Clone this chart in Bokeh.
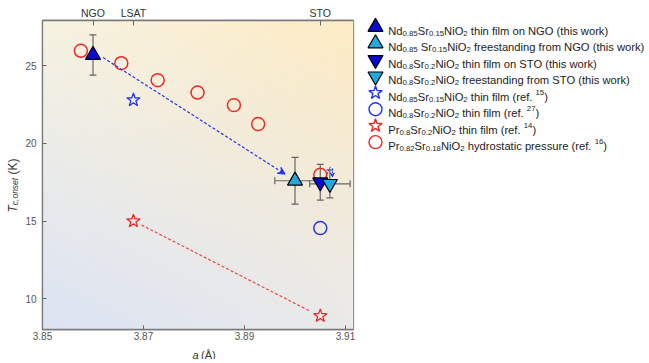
import numpy as np
from bokeh.plotting import figure
from bokeh.models import (Range1d, LinearAxis, FixedTicker, Whisker, TeeHead,
                          ColumnDataSource, Arrow, VeeHead)
from bokeh.layouts import row, column
from bokeh.embed import file_html
from bokeh.resources import INLINE
from bokeh.core.properties import value

# ---------------- data ----------------
ngo_film_a = [3.860]
ngo_film_tc = [25.7]
ngo_film_tc_err = [1.3]

fs_ngo_a = [3.900]
fs_ngo_tc = [17.6]
fs_ngo_tc_err = [1.5]
fs_ngo_a_err = [0.004]

sto_film_a = [3.905]
sto_film_tc = [17.5]
sto_film_tc_err = [1.15]

fs_sto_a = [3.9069]
fs_sto_tc = [17.4]
fs_sto_tc_err = [0.9]
fs_sto_a_err = [0.004]

nd85_ref15_a = [3.868]
nd85_ref15_tc = [22.8]

nd8_ref27_a = [3.905]
nd8_ref27_tc = [14.55]

pr8_ref14_a = [3.868, 3.905]
pr8_ref14_tc = [15.0, 8.9]

pr82_ref16_a = [3.8576, 3.8656, 3.8728, 3.8807, 3.8879, 3.8927, 3.905]
pr82_ref16_tc = [25.97, 25.17, 24.08, 23.28, 22.47, 21.25, 17.98]

substrates = ["NGO", "LSAT", "STO"]
substrate_a = [3.860, 3.868, 3.905]

x_ticks = [3.85, 3.87, 3.89, 3.91]
x_tick_labels = ["3.85", "3.87", "3.89", "3.91"]
y_ticks = [10, 15, 20, 25]
y_tick_labels = ["10", "15", "20", "25"]

# ---------------- styling ----------------
X0, X1 = 3.85, 3.91158
Y0, Y1 = 8.02, 27.92
FW, FH = 311, 309
BLUE = "#0a0ad2"
CYAN = "#22a8dc"
RBLUE = "#2233ee"
RED = "#f02828"
GRAY = "#666666"
FONT = "Liberation Sans"

# text width helper (Arial metrics)
W = {' ': 278, '(': 333, ')': 333, ',': 278, '-': 333, '.': 278,
     'A': 667, 'B': 667, 'C': 722, 'D': 722, 'E': 667, 'F': 611, 'G': 778,
     'H': 722, 'I': 278, 'K': 667, 'L': 556, 'M': 833, 'N': 722, 'O': 778,
     'P': 667, 'R': 722, 'S': 667, 'T': 611, 'Å': 667,
     'a': 556, 'b': 556, 'c': 500, 'd': 556, 'e': 556, 'f': 278, 'g': 556,
     'h': 556, 'i': 222, 'k': 500, 'l': 222, 'm': 833, 'n': 556, 'o': 556,
     'p': 556, 'r': 333, 's': 500, 't': 278, 'u': 556, 'w': 722, 'y': 500,
     'v': 500, 'x': 500, 'z': 500}
def tw(s, fs):
    return sum(W.get(c, 556) for c in s) * fs / 1000.0

def strip_fig(w, h):
    f = figure(width=w, height=h, x_range=Range1d(0, w), y_range=Range1d(0, h),
               output_backend="svg", toolbar_location=None,
               x_axis_location=None, y_axis_location=None, min_border=0)
    f.xgrid.visible = False
    f.ygrid.visible = False
    f.outline_line_color = None
    f.background_fill_color = "white"
    f.border_fill_color = "white"
    return f

# ---------------- main plot ----------------
YT_W = 22
p = figure(frame_width=FW, frame_height=FH, x_range=Range1d(X0, X1),
           y_range=Range1d(Y0, Y1), output_backend="svg", toolbar_location=None,
           min_border_left=41 - YT_W, min_border_top=20, min_border_right=6,
           min_border_bottom=14)
p.xgrid.visible = False
p.ygrid.visible = False
p.outline_line_color = "#7a7a7a"
p.outline_line_width = 1.3
p.background_fill_color = "white"
p.border_fill_color = "white"

xa = p.xaxis[0]
xa.ticker = FixedTicker(ticks=x_ticks)
xa.major_label_overrides = {t: l for t, l in zip(x_ticks, x_tick_labels)}
ya = p.yaxis[0]
ya.ticker = FixedTicker(ticks=y_ticks)
ya.major_label_overrides = {t: l for t, l in zip(y_ticks, y_tick_labels)}
top = LinearAxis(ticker=FixedTicker(ticks=substrate_a))
top.major_label_overrides = {t: l for t, l in zip(substrate_a, substrates)}
p.add_layout(top, "above")
for ax in (xa, ya, top):
    ax.major_tick_in = 4
    ax.major_tick_out = 0
    ax.minor_tick_line_color = None
    ax.major_tick_line_color = "#666666"
    ax.axis_line_color = "#7a7a7a"
    ax.axis_line_width = 1.3
    ax.major_label_text_font = FONT
    ax.major_label_text_font_size = "10px"
    ax.major_label_text_color = "#555555"
top.major_tick_in = 5
top.major_label_text_font_size = "10.5px"
top.major_label_text_color = "#333333"
top.major_label_standoff = 2
xa.major_label_standoff = 2
ya.major_label_standoff = 6

# background gradient
n = 120
u = np.linspace(0, 1, n)[None, :]
v = np.linspace(0, 1, n)[:, None]
TL = np.array([247, 243, 226]); TR = np.array([254, 236, 196])
BL = np.array([220, 228, 244]); BR = np.array([234, 234, 234])
img = np.zeros((n, n), dtype=np.uint32)
view = img.view(dtype=np.uint8).reshape((n, n, 4))
for k in range(3):
    view[:, :, k] = ((1 - u) * (1 - v) * BL[k] + u * (1 - v) * BR[k]
                     + (1 - u) * v * TL[k] + u * v * TR[k]).astype(np.uint8)
view[:, :, 3] = 255
p.image_rgba(image=[img], x=X0, y=Y0, dw=X1 - X0, dh=Y1 - Y0, level="image")

def err_bar(base_vals, centers, errs, dim):
    src = ColumnDataSource(dict(b=base_vals,
                                lo=[c - e for c, e in zip(centers, errs)],
                                hi=[c + e for c, e in zip(centers, errs)]))
    p.add_layout(Whisker(source=src, base="b", lower="lo", upper="hi",
                         dimension=dim, line_color=GRAY, line_width=1.2,
                         lower_head=TeeHead(size=7, line_color=GRAY, line_width=1.2),
                         upper_head=TeeHead(size=7, line_color=GRAY, line_width=1.2)))

err_bar(ngo_film_a, ngo_film_tc, ngo_film_tc_err, "height")
err_bar(fs_ngo_a, fs_ngo_tc, fs_ngo_tc_err, "height")
err_bar(fs_ngo_tc, fs_ngo_a, fs_ngo_a_err, "width")
err_bar(sto_film_a, sto_film_tc, sto_film_tc_err, "height")
err_bar(fs_sto_a, fs_sto_tc, fs_sto_tc_err, "height")
err_bar(fs_sto_tc, fs_sto_a, fs_sto_a_err, "width")

# arrows / dashed lines
p.add_layout(Arrow(x_start=3.862, y_start=25.53, x_end=3.898, y_end=18.03,
                   line_color=RBLUE, line_width=1.2, line_dash="3 2",
                   end=VeeHead(size=7, line_color=RBLUE, line_width=1.2,
                               fill_color=RBLUE)))
p.line([3.8696, 3.903], [14.75, 9.2], line_color=RED, line_width=1.2,
       line_dash="3 2", line_alpha=0.85)
p.line([3.9061, 3.9070], [17.85, 18.5], line_color=RBLUE, line_width=1.0,
       line_dash="2 1")
p.add_layout(Arrow(x_start=3.9074, y_start=18.4, x_end=3.9074, y_end=17.85,
                   line_color=RBLUE, line_width=1.0, line_dash="2 1",
                   end=VeeHead(size=4, line_color=RBLUE, line_width=1,
                               fill_color=RBLUE)))

# markers
p.scatter(pr82_ref16_a, pr82_ref16_tc, marker="circle", size=13,
          fill_color=None, line_color=RED, line_width=1.5)
p.scatter(nd8_ref27_a, nd8_ref27_tc, marker="circle", size=13,
          fill_color=None, line_color=RBLUE, line_width=1.5)
p.scatter(pr8_ref14_a, pr8_ref14_tc, marker="star", size=14,
          fill_color=None, line_color=RED, line_width=1.3)
p.scatter(nd85_ref15_a, nd85_ref15_tc, marker="star", size=14,
          fill_color=None, line_color=RBLUE, line_width=1.3)
p.scatter(ngo_film_a, ngo_film_tc, marker="triangle", size=15,
          fill_color=BLUE, line_color="black", line_width=1.2)
p.scatter(fs_ngo_a, fs_ngo_tc, marker="triangle", size=15,
          fill_color=CYAN, line_color="black", line_width=1.2)
p.scatter(sto_film_a, sto_film_tc, marker="inverted_triangle", size=15,
          fill_color=BLUE, line_color="black", line_width=1.2)
p.scatter(fs_sto_a, fs_sto_tc, marker="inverted_triangle", size=15,
          fill_color=CYAN, line_color="black", line_width=1.2)

# ---------------- y-axis title strip (rotated) ----------------
YT_H = 346
yt = strip_fig(YT_W, YT_H)
yparts = [("T", "italic", 12, 0), ("c,onset", "italic", 8.5, 2.5),
          ("(K)", "normal", 12, 0)]
gaps = [0, 0, tw(" ", 12)]
tot = sum(tw(s, fs) for s, _, fs, _ in yparts) + sum(gaps)
cy = 185 + tot / 2       # canvas-y of start (bottom of rotated text)
for (s, st, fs, dx), g in zip(yparts, gaps):
    cy -= g
    yt.text(x=[12 + dx], y=[YT_H - cy], text=[s], angle=np.pi / 2,
            text_font=value(FONT), text_font_size=f"{fs}px",
            text_font_style=st, text_color="#333333",
            text_align="left", text_baseline="alphabetic")
    cy -= tw(s, fs)

# ---------------- x-axis title strip ----------------
XT_W = (41 - YT_W) + FW + 6
XT_H = 16
XFS = 11
xt = strip_fig(XT_W, XT_H)
xparts = [("a", "italic", 0), ("(Å)", "normal", tw(" ", XFS))]
tot = sum(tw(s, XFS) for s, _, _ in xparts) + sum(g for _, _, g in xparts)
cx = (196.5 - YT_W) - tot / 2
for s, st, g in xparts:
    cx += g
    xt.text(x=[cx], y=[XT_H - 11], text=[s], text_font=value(FONT),
            text_font_size=f"{XFS}px", text_font_style=st, text_color="#333333",
            text_align="left", text_baseline="alphabetic")
    cx += tw(s, XFS)

# ---------------- legend panel ----------------
LW, LH = 290, 346
q = strip_fig(LW, LH)

legend_rows = [
    [("Nd", "n"), ("0.85", "sub"), ("Sr", "n"), ("0.15", "sub"), ("NiO", "n"), ("2", "sub"), (" thin film on NGO (this work)", "n")],
    [("Nd", "n"), ("0.85", "sub"), (" Sr", "n"), ("0.15", "sub"), ("NiO", "n"), ("2", "sub"), (" freestanding from NGO (this work)", "n")],
    [("Nd", "n"), ("0.8", "sub"), ("Sr", "n"), ("0.2", "sub"), ("NiO", "n"), ("2", "sub"), (" thin film on STO (this work)", "n")],
    [("Nd", "n"), ("0.8", "sub"), ("Sr", "n"), ("0.2", "sub"), ("NiO", "n"), ("2", "sub"), (" freestanding from STO (this work)", "n")],
    [("Nd", "n"), ("0.85", "sub"), ("Sr", "n"), ("0.15", "sub"), ("NiO", "n"), ("2", "sub"), (" thin film (ref. ", "n"), ("15", "sup"), (")", "n")],
    [("Nd", "n"), ("0.8", "sub"), ("Sr", "n"), ("0.2", "sub"), ("NiO", "n"), ("2", "sub"), (" thin film (ref. ", "n"), ("27", "sup"), (")", "n")],
    [("Pr", "n"), ("0.8", "sub"), ("Sr", "n"), ("0.2", "sub"), ("NiO", "n"), ("2", "sub"), (" thin film (ref. ", "n"), ("14", "sup"), (")", "n")],
    [("Pr", "n"), ("0.82", "sub"), ("Sr", "n"), ("0.18", "sub"), ("NiO", "n"), ("2", "sub"), (" hydrostatic pressure (ref. ", "n"), ("16", "sup"), (")", "n")],
]
legend_markers = [("triangle", BLUE, "black"), ("triangle", CYAN, "black"),
                  ("inverted_triangle", BLUE, "black"),
                  ("inverted_triangle", CYAN, "black"),
                  ("star", None, RBLUE), ("circle", None, RBLUE),
                  ("star", None, RED), ("circle", None, RED)]

ROW0, DROW = 26.5, 16.45
MX, TX = 374 - (YT_W + XT_W), 386.7 - (YT_W + XT_W)
FS_MAIN, FS_SUB = 11.2, 7.8
tx, ty, tt, tf = [], [], [], []
for i, pieces in enumerate(legend_rows):
    yc = ROW0 + i * DROW
    base = yc + 4
    cx = TX
    for s, kind in pieces:
        if kind == "n":
            fs, yy = FS_MAIN, base
        elif kind == "sub":
            fs, yy = FS_SUB, base + 2.5
        else:
            fs, yy = FS_SUB, base - 4.5
        lead = len(s) - len(s.lstrip(" "))
        cx += tw(" " * lead, fs)
        core = s.strip(" ")
        tx.append(cx); ty.append(LH - yy); tt.append(core); tf.append(f"{fs}px")
        cx += tw(s.lstrip(" "), fs)
    mk, fc, lc = legend_markers[i]
    lw = 1.2 if fc is not None else 1.4
    sz = 15 if "triangle" in mk else (14 if mk == "star" else 13)
    q.scatter([MX], [LH - yc], marker=mk, size=sz, fill_color=fc,
              line_color=lc, line_width=lw)

q.text(x=tx, y=ty, text=tt, text_font_size=tf, text_font=value(FONT),
       text_color="#222222", text_baseline="alphabetic", text_align="left")

layout = row(yt, column(p, xt), q)
open("out.html", "w").write(file_html(layout, INLINE))
